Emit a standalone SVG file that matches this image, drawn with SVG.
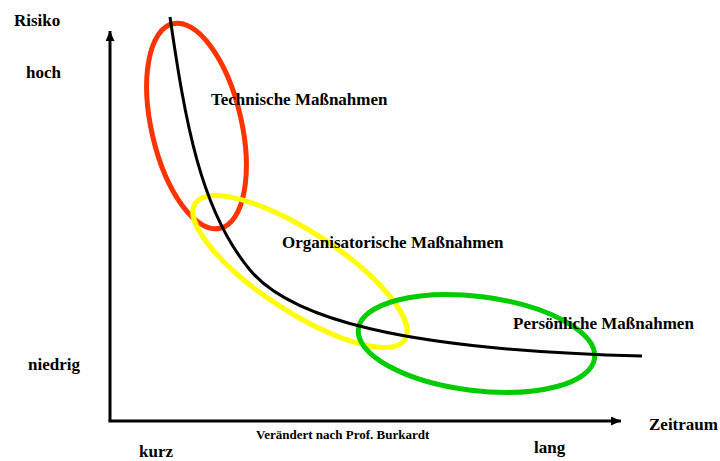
<svg xmlns="http://www.w3.org/2000/svg" width="720" height="461" viewBox="0 0 720 461">
<style>
text{font-family:"Liberation Serif","Times New Roman",serif;font-weight:bold;fill:#000}
.lbl{font-size:17px}
.small{font-size:13px}
.ax{stroke:#000;stroke-width:3;fill:none}
.ring{fill:none;stroke-width:5}
</style>
<defs>
<marker id="arr" markerUnits="userSpaceOnUse" markerWidth="11" markerHeight="10" refX="10" refY="4.5" orient="auto">
<path d="M0,0 L10,4.5 L0,9 z" fill="#000"/>
</marker>
</defs>
<rect width="720" height="461" fill="#fff"/>
<g id="connectors">
<path class="ax" d="M110,421 L110,31" marker-end="url(#arr)"/>
<path class="ax" d="M108.5,421 L621,421" marker-end="url(#arr)"/>
</g>
<g id="technisch">
<ellipse class="ring" stroke="#FF3300" cx="196.5" cy="126" rx="45" ry="105" transform="rotate(-13 196.5 126)"/>
</g>
<g id="organisatorisch">
<ellipse class="ring" stroke="#FFFF00" cx="300" cy="271.5" rx="125" ry="40" transform="rotate(33 300 271.5)"/>
</g>
<g id="persoenlich">
<ellipse class="ring" stroke="#00CC00" cx="476.5" cy="343.5" rx="119" ry="47" transform="rotate(7 476.5 343.5)"/>
</g>
<g id="kurve">
<path d="M170,17 C185,120 200,210 250,270 C290,318 400,350 642,356" fill="none" stroke="#000" stroke-width="3"/>
</g>
<g id="labels">
<text class="lbl" x="14" y="26">Risiko</text>
<text class="lbl" x="26" y="78">hoch</text>
<text class="lbl" x="28" y="370">niedrig</text>
<text class="lbl" x="139" y="457">kurz</text>
<text class="lbl" x="534" y="453">lang</text>
<text class="lbl" x="649" y="430">Zeitraum</text>
<text class="small" x="256" y="439">Verändert nach Prof. Burkardt</text>
<text class="lbl" x="211" y="105">Technische Maßnahmen</text>
<text class="lbl" x="282" y="248">Organisatorische Maßnahmen</text>
<text class="lbl" x="513" y="329">Persönliche Maßnahmen</text>
</g>
</svg>
